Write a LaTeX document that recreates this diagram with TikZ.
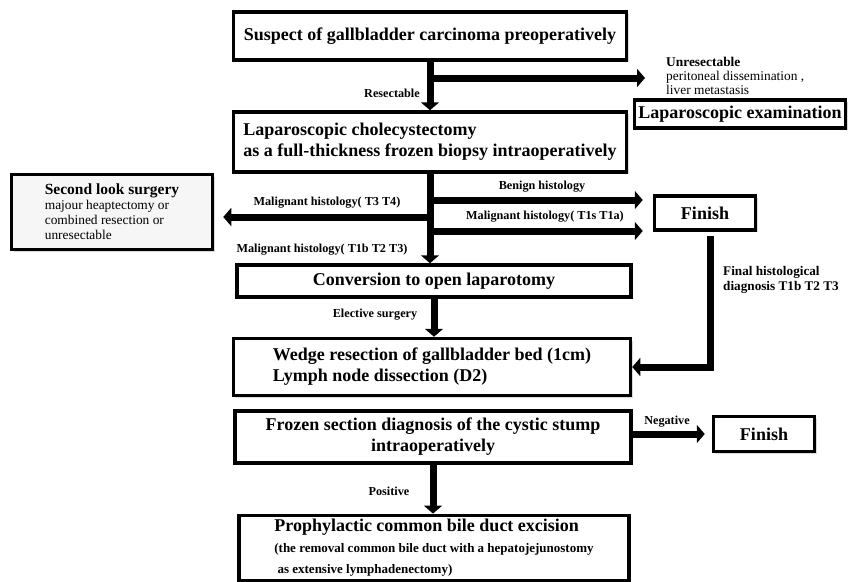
\documentclass[tikz,border=0pt]{standalone}
\usepackage{fontspec}
\setmainfont{Liberation Serif}
\usetikzlibrary{positioning, arrows.meta, shadows}
\tikzset{
    box/.style={draw, line width=3.5pt, fill=white, inner sep=4pt,
        drop shadow={opacity=0.3, shadow xshift=2pt, shadow yshift=-2pt},
        font=\fontsize{18}{21}\selectfont\bfseries}, % framed steps
    flow/.style={->, line width=7pt}, % thick arrows
    lbl/.style={font=\fontsize{12.2}{14}\selectfont\bfseries, inner sep=1pt},
    note/.style={font=\fontsize{13.4}{14}\selectfont, align=left, inner sep=0pt},
}
\begin{document}
\begin{tikzpicture}[
    x=1pt, y=-1pt,
    >={Triangle[length=8pt, width=18pt]}
]
    \useasboundingbox (0,0) rectangle (848,581);

    % --- Boxes ---
    \node[box, minimum width=393pt, minimum height=48pt] (suspect) at (430,36) {Suspect of gallbladder carcinoma preoperatively};
    \node[box, minimum width=393pt, minimum height=60pt, align=left] (lapchole) at (430,142) {Laparoscopic cholecystectomy\\as a full-thickness frozen biopsy intraoperatively};
    \node[box, minimum width=210pt, minimum height=28pt] (lapexam) at (740,114) {Laparoscopic examination};
    \node[box, minimum width=201pt, minimum height=75pt, align=left, fill=gray!7,
          font=\fontsize{13.4}{15}\selectfont] (second) at (112,212)
          {{\fontsize{15.5}{17}\selectfont\bfseries Second look surgery}\\majour heaptectomy or\\combined resection or\\unresectable};
    \node[box, minimum width=101pt, minimum height=34pt] (finish1) at (705,213) {Finish};
    \node[box, minimum width=394pt, minimum height=32pt] (conv) at (434,281) {Conversion to open laparotomy};
    \node[box, minimum width=397pt, minimum height=57pt, align=left] (wedge) at (432,367) {Wedge resection of gallbladder bed (1cm)\\Lymph node dissection (D2)};
    \node[box, minimum width=396pt, minimum height=52pt, align=center] (frozen) at (433,437) {Frozen section diagnosis of the cystic stump\\intraoperatively};
    \node[box, minimum width=101pt, minimum height=35pt] (finish2) at (764,434) {Finish};
    \node[box, minimum width=390pt, minimum height=60pt, align=left] (proph) at (434,548)
          {Prophylactic common bile duct excision\\{\fontsize{13}{15}\selectfont(the removal common bile duct with a hepatojejunostomy}\\{\fontsize{13}{15}\selectfont\ as extensive lymphadenectomy)}};

    % --- Side notes ---
    \node[note, anchor=west] (unres) at (666,76) {\textbf{Unresectable}\\peritoneal dissemination ,\\liver metastasis};
    \node[note, anchor=west, font=\fontsize{13.2}{15}\selectfont\bfseries] (final) at (723,280) {Final histological\\diagnosis T1b T2 T3};

    % --- Branch points on the shafts ---
    \coordinate (unresj) at (430,78);
    \coordinate (benignj) at (430,200);
    \coordinate (t34j) at (430,217);
    \coordinate (t1sj) at (430,231);

    % --- Arrows ---
    \draw[flow] (suspect) -- (lapchole);
    \draw[flow] (unresj) -- ([xshift=-21pt]unresj -| unres.west);
    \draw[flow] (lapchole) -- (lapchole |- conv.north);
    \draw[flow] (benignj) -- ([xshift=-10pt]benignj -| finish1.west);
    \draw[flow] (t1sj) -- ([xshift=-10pt]t1sj -| finish1.west);
    \draw[flow] (t34j) -- ([xshift=9pt]t34j -| second.east);
    \draw[flow] (conv) -- (conv |- wedge.north);
    \draw[flow] ([xshift=5pt, yshift=-4pt]finish1.south) |- (wedge.east);
    \draw[flow] (frozen.east |- finish2) -- ([xshift=-7pt]finish2.west);
    \draw[flow] (frozen) -- (frozen |- proph.north);

    % --- Arrow labels ---
    \node[lbl] (resect) at (392,93) {Resectable};
    \node[lbl] (benign) at (542,187) {Benign histology};
    \node[lbl] (t1s) at (545,217) {Malignant histology( T1s T1a)};
    \node[lbl] (t34) at (327,203) {Malignant histology( T3 T4)};
    \node[lbl] (t1b) at (322,250) {Malignant histology( T1b T2 T3)};
    \node[lbl] (elective) at (375,315) {Elective surgery};
    \node[lbl] (negative) at (667,422) {Negative};
    \node[lbl] (positive) at (389,491) {Positive};

\end{tikzpicture}
\end{document}
